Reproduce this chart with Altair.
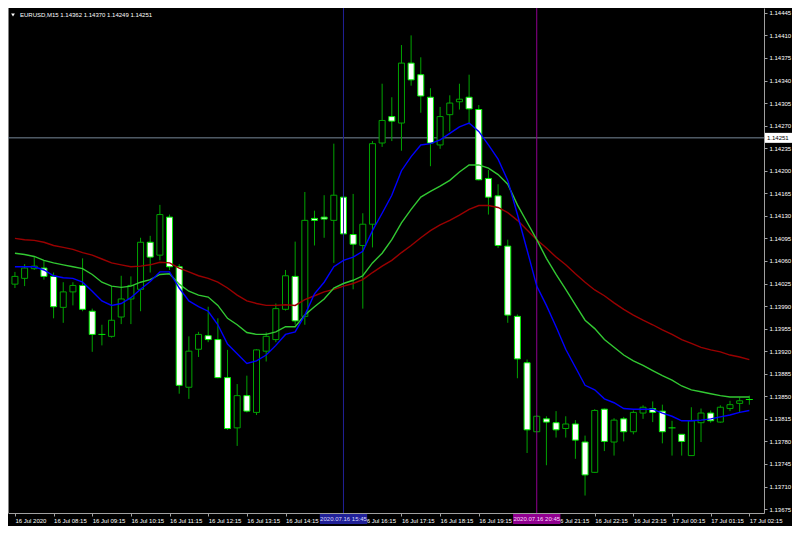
import json
import altair as alt
import pandas as pd

# ---------------- data ----------------
symbol_title = "EURUSD,M15  1.14362 1.14370 1.14249 1.14251"
bid_price = [1.14251]
bid_label = ["1.14251"]

opens = [1.14024, 1.14033, 1.14048, 1.14049, 1.14036, 1.13988, 1.14012, 1.14022, 1.13982, 1.13946,
         1.13943, 1.13973, 1.14001, 1.14016, 1.14089, 1.14069, 1.14128, 1.14051, 1.13864, 1.13923,
         1.13944, 1.13938, 1.13879, 1.13801, 1.13851, 1.13825, 1.13920, 1.13938, 1.13985, 1.14036,
         1.13974, 1.14126, 1.14128, 1.14123, 1.14159, 1.14101, 1.14084, 1.14117, 1.14243, 1.14284,
         1.14274, 1.14367, 1.14349, 1.14314, 1.14240, 1.14287, 1.14307, 1.14314, 1.14295, 1.14188,
         1.14161, 1.14083, 1.13974, 1.13902, 1.13795, 1.13815, 1.13809, 1.13800, 1.13807, 1.13779,
         1.13732, 1.13830, 1.13779, 1.13815, 1.13795, 1.13824, 1.13831, 1.13827, 1.13801, 1.13791,
         1.13758, 1.13809, 1.13824, 1.13810, 1.13831, 1.13839, 1.13845]
highs = [1.14043, 1.14055, 1.14066, 1.14061, 1.14042, 1.14027, 1.14027, 1.14064, 1.13986, 1.13961,
         1.14021, 1.14037, 1.14036, 1.14096, 1.14099, 1.14147, 1.14132, 1.14055, 1.13943, 1.13950,
         1.13989, 1.13971, 1.13922, 1.13869, 1.13882, 1.13923, 1.13949, 1.13994, 1.14046, 1.14090,
         1.14167, 1.14138, 1.14162, 1.14242, 1.14170, 1.14164, 1.14134, 1.14246, 1.14335, 1.14314,
         1.14395, 1.14410, 1.14376, 1.14328, 1.14299, 1.14317, 1.14335, 1.14349, 1.14302, 1.14201,
         1.14179, 1.14093, 1.13977, 1.13907, 1.13821, 1.13819, 1.13827, 1.13819, 1.13813, 1.13789,
         1.13830, 1.13831, 1.13816, 1.13818, 1.13828, 1.13836, 1.13842, 1.13837, 1.13812, 1.13791,
         1.13833, 1.13831, 1.13828, 1.13836, 1.13843, 1.13848, 1.13851]
lows = [1.14018, 1.14021, 1.14046, 1.14031, 1.13971, 1.13964, 1.13991, 1.13982, 1.13919, 1.13929,
        1.13941, 1.13962, 1.13962, 1.13982, 1.14042, 1.14061, 1.14046, 1.13854, 1.13846, 1.13911,
        1.13934, 1.13878, 1.13798, 1.13773, 1.13825, 1.13821, 1.13904, 1.13934, 1.13983, 1.13961,
        1.13961, 1.14084, 1.14096, 1.14057, 1.14098, 1.14016, 1.13986, 1.14081, 1.14237, 1.14246,
        1.14231, 1.14332, 1.14290, 1.14207, 1.14234, 1.14261, 1.14295, 1.14272, 1.14185, 1.14132,
        1.14080, 1.13964, 1.13878, 1.13762, 1.13794, 1.13743, 1.13786, 1.13786, 1.13753, 1.13696,
        1.13731, 1.13765, 1.13758, 1.13780, 1.13791, 1.13815, 1.13810, 1.13777, 1.13758, 1.13758,
        1.13758, 1.13779, 1.13809, 1.13809, 1.13827, 1.13825, 1.13837]
closes = [1.14036, 1.14049, 1.14052, 1.14036, 1.13989, 1.14012, 1.14022, 1.13985, 1.13946, 1.13946,
          1.13968, 1.14001, 1.14022, 1.14089, 1.14066, 1.14132, 1.14051, 1.13867, 1.13920, 1.13946,
          1.13938, 1.13879, 1.13800, 1.13851, 1.13827, 1.13922, 1.13943, 1.13986, 1.14037, 1.13967,
          1.14123, 1.14123, 1.14125, 1.14162, 1.14102, 1.14086, 1.14117, 1.14242, 1.14278, 1.14277,
          1.14367, 1.14341, 1.14316, 1.14243, 1.14284, 1.14305, 1.14311, 1.14296, 1.14186, 1.14159,
          1.14084, 1.13976, 1.13908, 1.13798, 1.13819, 1.13810, 1.13798, 1.13807, 1.13782, 1.13728,
          1.13828, 1.13780, 1.13813, 1.13795, 1.13825, 1.13833, 1.13825, 1.13795, 1.13801, 1.13780,
          1.13812, 1.13824, 1.13812, 1.13833, 1.13837, 1.13843, 1.13845]

ma_blue = [1.14051, 1.14051, 1.14051, 1.14046, 1.14037, 1.14034, 1.14033, 1.14027, 1.14013, 1.13998,
           1.13991, 1.13994, 1.14003, 1.14016, 1.14028, 1.14043, 1.14043, 1.14018, 1.13998, 1.13989,
           1.13982, 1.13961, 1.13931, 1.13916, 1.13901, 1.13905, 1.13914, 1.13929, 1.13946, 1.13950,
           1.13976, 1.14009, 1.14027, 1.14051, 1.14061, 1.14066, 1.14075, 1.14107, 1.14134, 1.14162,
           1.14200, 1.14222, 1.14240, 1.14242, 1.14248, 1.14258, 1.14268, 1.14274, 1.14261, 1.14240,
           1.14218, 1.14185, 1.14132, 1.14077, 1.14021, 1.13991, 1.13958, 1.13923, 1.13895, 1.13867,
           1.13860, 1.13846, 1.13840, 1.13831, 1.13830, 1.13830, 1.13830, 1.13824, 1.13819, 1.13812,
           1.13812, 1.13813, 1.13815, 1.13818, 1.13821, 1.13825, 1.13828]
ma_green = [1.14072, 1.14070, 1.14067, 1.14061, 1.14057, 1.14054, 1.14051, 1.14048, 1.14039, 1.14027,
            1.14021, 1.14019, 1.14021, 1.14027, 1.14031, 1.14039, 1.14040, 1.14024, 1.14013, 1.14007,
            1.14004, 1.13991, 1.13971, 1.13961, 1.13949, 1.13946, 1.13946, 1.13950, 1.13958, 1.13958,
            1.13976, 1.13989, 1.14001, 1.14018, 1.14025, 1.14030, 1.14037, 1.14057, 1.14072, 1.14093,
            1.14119, 1.14140, 1.14159, 1.14168, 1.14176, 1.14185, 1.14198, 1.14209, 1.14209, 1.14204,
            1.14194, 1.14179, 1.14147, 1.14120, 1.14093, 1.14064, 1.14039, 1.14016, 1.13992, 1.13968,
            1.13955, 1.13938, 1.13926, 1.13914, 1.13905, 1.13898, 1.13890, 1.13882, 1.13875, 1.13866,
            1.13860, 1.13857, 1.13854, 1.13851, 1.13849, 1.13849, 1.13849]
ma_red = [1.14095, 1.14093, 1.14092, 1.14089, 1.14084, 1.14081, 1.14078, 1.14073, 1.14069, 1.14063,
          1.14057, 1.14054, 1.14051, 1.14052, 1.14054, 1.14058, 1.14057, 1.14049, 1.14043, 1.14037,
          1.14033, 1.14027, 1.14018, 1.14007, 1.13998, 1.13994, 1.13991, 1.13991, 1.13992, 1.13991,
          1.14000, 1.14006, 1.14012, 1.14016, 1.14021, 1.14025, 1.14031, 1.14042, 1.14052, 1.14061,
          1.14073, 1.14084, 1.14096, 1.14107, 1.14116, 1.14123, 1.14131, 1.14140, 1.14146, 1.14146,
          1.14143, 1.14135, 1.14123, 1.14108, 1.14093, 1.14080, 1.14066, 1.14054, 1.14040, 1.14027,
          1.14015, 1.14006, 1.13995, 1.13985, 1.13976, 1.13968, 1.13961, 1.13953, 1.13946, 1.13938,
          1.13932, 1.13926, 1.13922, 1.13919, 1.13914, 1.13911, 1.13907]

# time-axis labels; the two under the vertical-line date boxes are hidden (empty)
time_labels = ["16 Jul 2020", "16 Jul 08:15", "16 Jul 09:15", "16 Jul 10:15", "16 Jul 11:15",
               "16 Jul 12:15", "16 Jul 13:15", "16 Jul 14:15", "", "16 Jul 16:15",
               "16 Jul 17:15", "16 Jul 18:15", "16 Jul 19:15", "", "16 Jul 21:15",
               "16 Jul 22:15", "16 Jul 23:15", "17 Jul 00:15", "17 Jul 01:15", "17 Jul 02:15"]
tick_idx = list(range(0, 77, 4))
price_ticks = [1.13675, 1.13710, 1.13745, 1.13780, 1.13815, 1.13850, 1.13885, 1.13920,
               1.13955, 1.13990, 1.14025, 1.14060, 1.14095, 1.14130, 1.14165, 1.14200,
               1.14235, 1.14270, 1.14305, 1.14340, 1.14375, 1.14410, 1.14445]
vline_idx = [34, 54]
vline_labels = ["2020.07.16 15:45", "2020.07.16 20:45"]

# ---------------- styling ----------------
W, H = 756, 505
FONT = "Liberation Sans"
FS = 6
DARK_GREEN = "#00a400"
LIME = "#00f000"
AXIS_GRAY = "#a0a0a0"

xs = alt.Scale(domain=[-0.2, 77.0], nice=False, zero=False)
ys = alt.Scale(domain=[1.136689, 1.144525], nice=False, zero=False)

x_axis = alt.Axis(values=tick_idx,
                  labelExpr=json.dumps(time_labels) + "[round(datum.value / 4)]",
                  labelAlign="left", labelColor="#ffffff", labelFont=FONT, labelFontSize=FS,
                  tickColor=AXIS_GRAY, tickSize=3, domainColor=AXIS_GRAY, labelPadding=1,
                  grid=False, title=None, labelOverlap=False, labelFlush=False, zindex=0)
y_axis = alt.Axis(values=price_ticks, format=".5f", orient="right", labelColor="#ffffff",
                  labelFont=FONT, labelFontSize=FS, tickColor=AXIS_GRAY, tickSize=3,
                  domainColor=AXIS_GRAY, labelPadding=2, grid=False, title=None,
                  labelOverlap=False, labelFlush=False, zindex=0)


def X(field):
    return alt.X(field, type="quantitative", scale=xs, axis=x_axis)


def Y(field):
    return alt.Y(field, type="quantitative", scale=ys, axis=y_axis)


n = len(opens)
df = pd.DataFrame({"i": list(range(n)), "open": opens, "high": highs, "low": lows,
                   "close": closes, "blue": ma_blue, "green": ma_green, "red": ma_red})
df["kind"] = ["bull" if c > o else ("bear" if c < o else "doji") for o, c in zip(opens, closes)]

base = alt.Chart(df)

wicks = base.mark_rule(color=DARK_GREEN, strokeWidth=1).encode(x=X("i"), y=Y("low"), y2="high")
bull = base.transform_filter("datum.kind == 'bull'").mark_bar(
    size=6, fill="#000000", stroke=DARK_GREEN, strokeWidth=1).encode(x=X("i"), y=Y("open"), y2="close")
bear = base.transform_filter("datum.kind == 'bear'").mark_bar(
    size=6, fill="#ffffff", stroke=LIME, strokeWidth=1).encode(x=X("i"), y=Y("open"), y2="close")
doji = base.transform_filter("datum.kind == 'doji'").transform_calculate(
    x0="datum.i - 0.36", x1="datum.i + 0.36").mark_rule(color=LIME, strokeWidth=1).encode(
    x=X("x0"), x2="x1", y=Y("open"))

line_blue = base.mark_line(color="#0000ff", strokeWidth=1.4).encode(x=X("i"), y=Y("blue"))
line_green = base.mark_line(color="#32c832", strokeWidth=1.4).encode(x=X("i"), y=Y("green"))
line_red = base.mark_line(color="#9a0000", strokeWidth=1.4).encode(x=X("i"), y=Y("red"))

vdf = pd.DataFrame({"i": vline_idx, "label": vline_labels})
vbase = alt.Chart(vdf)
vlines = vbase.mark_rule(strokeWidth=1).encode(
    x=X("i"), y=alt.value(0), y2=alt.value(H),
    color=alt.Color("label:N", scale=alt.Scale(domain=vline_labels, range=["#202098", "#900090"]),
                    legend=None))
vbox = vbase.transform_calculate(b0="datum.i - 2.45", b1="datum.i + 2.45").mark_rule(
    strokeWidth=10, strokeCap="butt").encode(
    x=X("b0"), x2="b1", y=alt.value(H + 6),
    color=alt.Color("label:N", scale=alt.Scale(domain=vline_labels, range=["#0000ff", "#ff00ff"]),
                    legend=None))
vtext_blue = vbase.transform_filter(alt.datum.i == vline_idx[0]).mark_text(
    font=FONT, fontSize=FS, color="#d8d8ff", baseline="middle").encode(
    x=X("i"), y=alt.value(H + 6), text="label:N")
vtext_mag = vbase.transform_filter(alt.datum.i == vline_idx[1]).mark_text(
    font=FONT, fontSize=FS, color="#ffd8ff", baseline="middle").encode(
    x=X("i"), y=alt.value(H + 6), text="label:N")

bdf = pd.DataFrame({"p": bid_price, "label": bid_label})
bbase = alt.Chart(bdf)
bid_line = bbase.mark_rule(color="#778899", strokeWidth=1).encode(
    y=Y("p"), x=alt.value(0), x2=alt.value(W))
bid_box = bbase.mark_rule(color="#ffffff", strokeWidth=10, strokeCap="butt").encode(
    y=Y("p"), x=alt.value(W + 1), x2=alt.value(W + 28))
bid_text = bbase.mark_text(font=FONT, fontSize=FS, color="#000000", align="left",
                           baseline="middle").encode(y=Y("p"), x=alt.value(W + 3), text="label:N")

tdf = pd.DataFrame({"t": [symbol_title]})
tbase = alt.Chart(tdf)
title_text = tbase.mark_text(font=FONT, fontSize=FS, color="#ffffff", align="left",
                             baseline="middle").encode(x=alt.value(12), y=alt.value(7), text="t:N")
title_tri = tbase.mark_point(shape="triangle-down", filled=True, color="#ffffff", size=14,
                             opacity=1).encode(x=alt.value(5), y=alt.value(7))
left_border = tbase.mark_rule(color="#808080", strokeWidth=1).encode(
    x=alt.value(0.5), y=alt.value(0), y2=alt.value(H))

chart = alt.layer(
    left_border, bid_line, wicks, bull, bear, doji, vlines,
    line_red, line_green, line_blue,
    vbox, vtext_blue, vtext_mag, bid_box, bid_text, title_tri, title_text,
).properties(
    width=W, height=H, background="#000000",
    padding={"left": 0, "top": 0, "right": 28, "bottom": 13},
    autosize=alt.AutoSizeParams(type="none"),
).configure_view(stroke=None)

chart.save("out.html", embed_options={"renderer": "svg", "actions": False})
